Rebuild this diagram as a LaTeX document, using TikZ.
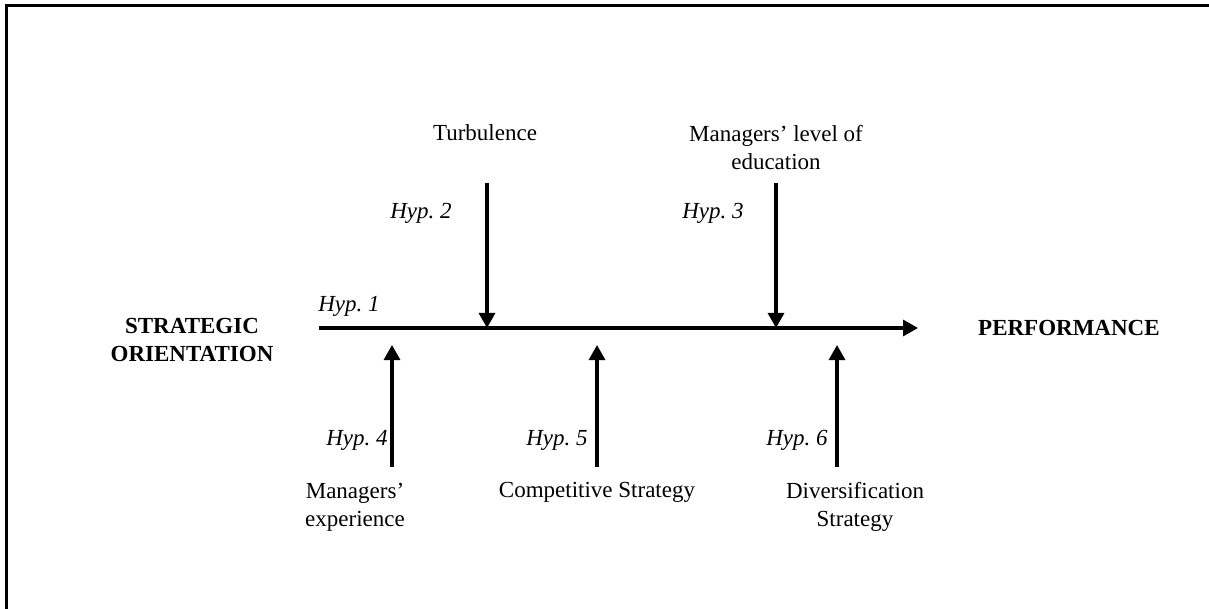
\documentclass[tikz,border=0pt]{standalone}
\usepackage{fontspec}
\setmainfont{Liberation Serif}
\usetikzlibrary{arrows.meta}
\frenchspacing
\begin{document}
\begin{tikzpicture}[x=1pt,y=-1pt,
  lbl/.style={inner sep=0pt,font=\fontsize{23}{28}\selectfont,align=center},
  hyp/.style={inner sep=0pt,font=\fontsize{23}{28}\selectfont\itshape},
  bold/.style={inner sep=0pt,font=\fontsize{23}{28}\selectfont\bfseries,align=center},
  conn/.style={line width=3.2pt,-{Triangle[length=15pt,width=16pt]}}]
\useasboundingbox (0,0) rectangle (1209,609);
\draw[line width=3pt] (6,609) -- (6,6) -- (1209,6);
% labels
\node[bold] (so) at (192,340) {STRATEGIC\\ORIENTATION};
\node[bold,anchor=west] (perf) at (978,328) {PERFORMANCE};
\node[lbl] (turb) at (485,133) {Turbulence};
\node[lbl] (edu) at (776,148) {Managers’ level of\\education};
\node[lbl] (exp) at (355,507) {Managers’\\experience};
\node[lbl] (comp) at (597,492) {Competitive Strategy};
\node[lbl] (div) at (855,507) {Diversification\\Strategy};
\node[hyp] (h1) at (349,306) {Hyp. 1};
\node[hyp] (h2) at (421,213) {Hyp. 2};
\node[hyp] (h3) at (713,213) {Hyp. 3};
\node[hyp] (h4) at (357,440) {Hyp. 4};
\node[hyp] (h5) at (557,440) {Hyp. 5};
\node[hyp] (h6) at (797,440) {Hyp. 6};
% coordinates
\coordinate (ms) at (319,328);
\coordinate (me) at (918,328);
\coordinate (t1) at (487,183);
\coordinate (t2) at (487,328);
\coordinate (e1) at (776,183);
\coordinate (e2) at (776,328);
\coordinate (x1) at (392,467);
\coordinate (x2) at (392,345);
\coordinate (c1) at (597,467);
\coordinate (c2) at (597,345);
\coordinate (d1) at (837,467);
\coordinate (d2) at (837,345);
% connectors
\draw[conn] (ms) -- (me);
\draw[conn] (t1) -- (t2);
\draw[conn] (e1) -- (e2);
\draw[conn] (x1) -- (x2);
\draw[conn] (c1) -- (c2);
\draw[conn] (d1) -- (d2);
\end{tikzpicture}
\end{document}
